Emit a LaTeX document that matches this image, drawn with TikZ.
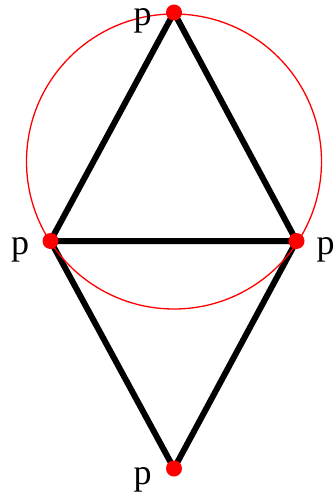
\documentclass[tikz,border=0pt]{standalone}
\usepackage{fontspec}
\setmainfont{Liberation Serif}
\begin{document}
\begin{tikzpicture}[x=1pt,y=-1pt,
  dotnode/.style={circle,fill=red,inner sep=0pt,minimum size=16pt},
  edge/.style={line width=6pt,black},
  lbl/.style={anchor=base west,inner sep=0pt,font=\fontsize{36pt}{36pt}\selectfont}]
\useasboundingbox (0,0) rectangle (333,495);
\coordinate (T) at (174,12.5);
\coordinate (L) at (50.5,241);
\coordinate (R) at (296.5,241);
\coordinate (B) at (174,468.5);
\coordinate (C) at (174,161.5);
\draw[edge] (T) -- (L) (T) -- (R) (L) -- (R) (L) -- (B) (R) -- (B);
\draw[red,line width=1.3pt] (C) circle[radius=147.5];
\node[dotnode] (dT) at (T) {};
\node[dotnode] (dL) at (L) {};
\node[dotnode] (dR) at (R) {};
\node[dotnode] (dB) at (B) {};
\node[lbl] (pT) at (133.5,25.5) {p};
\node[lbl] (pL) at (11,254) {p};
\node[lbl] (pR) at (316.5,254) {p};
\node[lbl] (pB) at (133.5,484) {p};
\end{tikzpicture}
\end{document}
